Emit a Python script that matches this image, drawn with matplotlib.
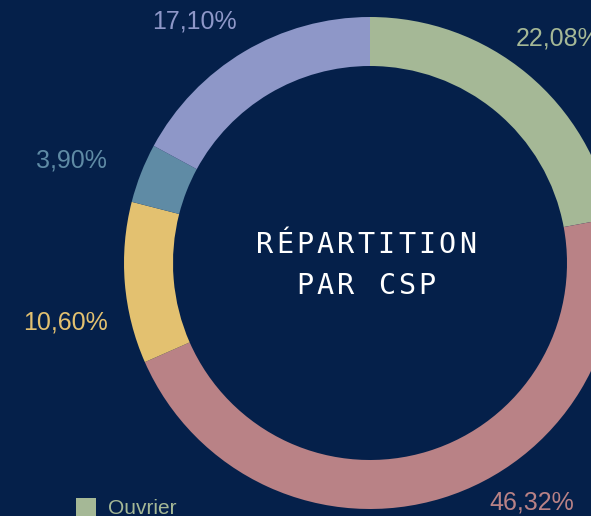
import numpy as np
import matplotlib
matplotlib.use("Agg")
import matplotlib.pyplot as plt
from matplotlib.patches import Rectangle

# data
categories = ["Ouvrier", "Employé", "Cadre", "Artisan", "Profession intermédiaire"]
shares = [22.08, 46.32, 10.60, 3.90, 17.10]
labels = ["22,08%", "46,32%", "10,60%", "3,90%", "17,10%"]
colors = ["#a5b896", "#b98286", "#e3c170", "#5f8ba5", "#8e97c8"]

BG = "#05204a"
W, H = 591, 516
cx, cy = 370, H - 263
radius = 246
ring = 49

# label nudges (pixels) from a point at r=270 on the mid-angle
label_r = 270
nudges = [(15, 17), (82, 19), (-35, -37), (-47, 4), (-37, 10)]

fig = plt.figure(figsize=(W / 100, H / 100), dpi=100, facecolor=BG)
ax = fig.add_axes([0, 0, 1, 1])
ax.set_facecolor(BG)

wedges, _ = ax.pie(shares, colors=colors, startangle=90, counterclock=False,
                   radius=radius, center=(cx, cy),
                   wedgeprops=dict(width=ring, linewidth=0))

# percentage labels
start = 90.0
for val, lab, col, (dx, dy) in zip(shares, labels, colors, nudges):
    mid = np.deg2rad(start - val * 3.6 / 2)
    start -= val * 3.6
    x = cx + label_r * np.cos(mid) + dx
    y = cy + label_r * np.sin(mid) + dy
    ax.text(x, y, lab, color=col, fontsize=18, family="Liberation Sans",
            ha="center", va="center")

# centre title, drawn char by char for the wide letter spacing
advance = 20.3
for line, ly in [("RÉPARTITION", H - 245), ("PAR CSP", H - 286)]:
    x0 = cx - 4 - advance * (len(line) - 1) / 2
    for i, ch in enumerate(line):
        ax.text(x0 + i * advance, ly, ch, color="white", fontsize=20.5,
                family="DejaVu Sans Mono", ha="center", va="center")

# legend (only first entry is visible in frame)
ax.add_patch(Rectangle((76, H - 518), 20, 20, color=colors[0], linewidth=0))
ax.text(108, H - 509, categories[0], color=colors[0], fontsize=15,
        family="Liberation Sans", ha="left", va="center")

ax.set_xlim(0, W)
ax.set_ylim(0, H)
ax.set_aspect("auto")
ax.axis("off")

fig.savefig("out.png", dpi=100, facecolor=BG)
